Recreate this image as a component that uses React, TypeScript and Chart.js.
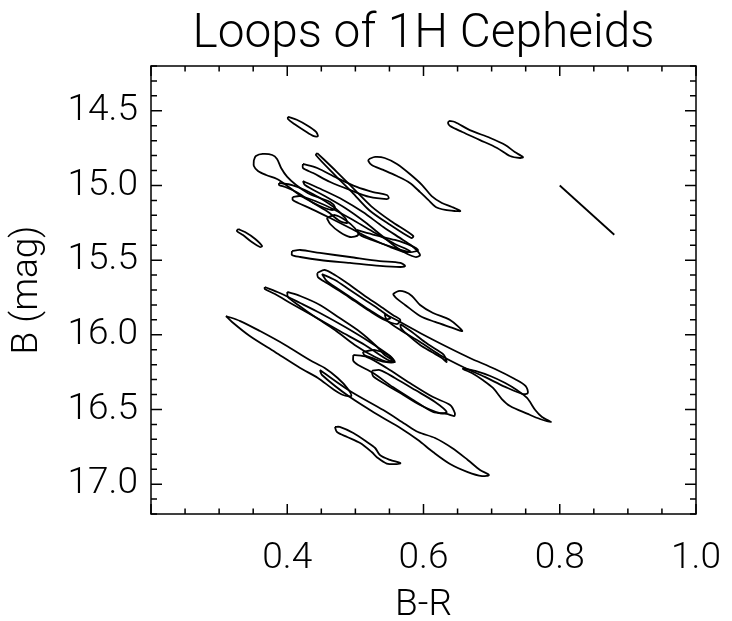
import React, { useEffect, useRef } from "react";
import { Chart, registerables } from "chart.js";

Chart.register(...registerables);

const TITLE = "Loops of 1H Cepheids";
const X_LABEL = "B-R";
const Y_LABEL = "B (mag)";
const X_MIN = 0.2;
const X_MAX = 1.0;
const Y_MIN = 14.2;
const Y_MAX = 17.2;
const X_TICKS = [0.4, 0.6, 0.8, 1.0];
const Y_TICKS = [14.5, 15.0, 15.5, 16.0, 16.5, 17.0];
const X_MINOR = 0.05;
const Y_MINOR = 0.1;

type P = [number, number];

// each loop: [B-R, B] points
const loopA: P[] = [[0.401,14.540],[0.414,14.560],[0.430,14.600],[0.442,14.640],[0.445,14.670],[0.439,14.670],[0.426,14.635],[0.411,14.590],[0.401,14.555]];
const loopB: P[] = [[0.6375,14.568],[0.646,14.575],[0.668,14.629],[0.698,14.682],[0.720,14.729],[0.734,14.776],[0.746,14.810],[0.742,14.816],[0.727,14.803],[0.708,14.749],[0.683,14.696],[0.657,14.642],[0.639,14.602],[0.636,14.582]];
const lineC: P[] = [[0.800,15.00],[0.880,15.33]];
const loopD: P[] = [[0.520,14.823],[0.529,14.809],[0.543,14.816],[0.561,14.856],[0.580,14.923],[0.598,14.997],[0.612,15.071],[0.627,15.117],[0.642,15.144],[0.654,15.171],[0.646,15.171],[0.632,15.164],[0.618,15.144],[0.607,15.097],[0.595,15.044],[0.580,14.983],[0.561,14.937],[0.541,14.896],[0.524,14.863],[0.519,14.836]];
const loopE: P[] = [[0.423,14.856],[0.444,14.883],[0.473,14.950],[0.502,15.010],[0.526,15.044],[0.546,15.064],[0.549,15.084],[0.546,15.091],[0.521,15.077],[0.492,15.030],[0.463,14.977],[0.438,14.917],[0.423,14.883]];
const loopF: P[] = [[0.444,14.783],[0.473,14.910],[0.498,15.024],[0.523,15.138],[0.552,15.238],[0.585,15.338],[0.582,15.352],[0.549,15.258],[0.520,15.164],[0.495,15.044],[0.470,14.930],[0.442,14.796]];
const loopG: P[] = [[0.351,14.830],[0.354,14.803],[0.364,14.789],[0.378,14.796],[0.385,14.823],[0.391,14.883],[0.400,14.943],[0.413,14.997],[0.430,15.050],[0.448,15.084],[0.463,15.111],[0.470,15.144],[0.467,15.164],[0.455,15.151],[0.436,15.111],[0.416,15.057],[0.400,15.003],[0.385,14.957],[0.369,14.930],[0.357,14.903],[0.351,14.870]];
const loopH: P[] = [[0.388,14.983],[0.407,14.997],[0.426,15.030],[0.448,15.084],[0.470,15.151],[0.485,15.218],[0.488,15.251],[0.477,15.238],[0.460,15.178],[0.438,15.117],[0.416,15.050],[0.397,15.010],[0.388,14.997]];
const loopI: P[] = [[0.408,15.077],[0.419,15.071],[0.441,15.104],[0.470,15.164],[0.499,15.238],[0.529,15.318],[0.558,15.392],[0.580,15.439],[0.573,15.446],[0.551,15.412],[0.521,15.352],[0.492,15.285],[0.463,15.218],[0.436,15.158],[0.416,15.117],[0.408,15.097]];
const loopJ: P[] = [[0.423,14.970],[0.452,15.030],[0.482,15.097],[0.511,15.178],[0.541,15.278],[0.570,15.365],[0.585,15.412],[0.595,15.466],[0.588,15.479],[0.566,15.432],[0.543,15.352],[0.514,15.245],[0.485,15.151],[0.455,15.071],[0.426,14.997]];
const loopK: P[] = [[0.458,15.218],[0.470,15.198],[0.485,15.231],[0.499,15.285],[0.504,15.332],[0.492,15.345],[0.477,15.312],[0.463,15.258]];
const loopL: P[] = [[0.502,15.298],[0.529,15.332],[0.558,15.365],[0.580,15.399],[0.592,15.432],[0.580,15.446],[0.554,15.412],[0.524,15.365],[0.507,15.332]];
const loopM: P[] = [[0.328,15.292],[0.338,15.312],[0.353,15.358],[0.363,15.405],[0.360,15.412],[0.348,15.379],[0.335,15.332],[0.326,15.305]];
const loopN: P[] = [[0.407,15.439],[0.419,15.432],[0.448,15.452],[0.492,15.479],[0.536,15.506],[0.566,15.519],[0.573,15.539],[0.566,15.546],[0.536,15.539],[0.492,15.519],[0.448,15.499],[0.419,15.479],[0.407,15.466]];
const loopO: P[] = [[0.444,15.586],[0.455,15.566],[0.470,15.600],[0.492,15.667],[0.514,15.740],[0.536,15.807],[0.555,15.867],[0.566,15.901],[0.561,15.928],[0.543,15.901],[0.521,15.841],[0.499,15.774],[0.477,15.707],[0.458,15.653],[0.445,15.613]];
const loopO2: P[] = [[0.451,15.593],[0.470,15.633],[0.492,15.700],[0.514,15.767],[0.536,15.834],[0.551,15.888],[0.543,15.894],[0.521,15.834],[0.499,15.767],[0.477,15.700],[0.458,15.640]];
const loopP: P[] = [[0.555,15.727],[0.563,15.707],[0.573,15.713],[0.583,15.740],[0.595,15.800],[0.614,15.854],[0.639,15.901],[0.657,15.975],[0.639,15.948],[0.617,15.914],[0.595,15.874],[0.573,15.800],[0.560,15.754]];
const loopQ: P[] = [[0.367,15.680],[0.389,15.720],[0.419,15.787],[0.448,15.854],[0.485,15.948],[0.521,16.048],[0.551,16.142],[0.558,16.182],[0.548,16.169],[0.514,16.068],[0.477,15.975],[0.441,15.881],[0.407,15.794],[0.382,15.727],[0.367,15.693]];
const loopR: P[] = [[0.400,15.713],[0.419,15.740],[0.448,15.800],[0.477,15.888],[0.507,15.981],[0.529,16.068],[0.543,16.135],[0.554,16.169],[0.548,16.182],[0.529,16.149],[0.499,16.068],[0.470,15.968],[0.441,15.881],[0.416,15.800],[0.401,15.747]];
const loopS: P[] = [[0.310,15.874],[0.331,15.908],[0.360,15.975],[0.397,16.068],[0.433,16.169],[0.455,16.222],[0.474,16.289],[0.488,16.356],[0.494,16.410],[0.482,16.403],[0.467,16.363],[0.445,16.289],[0.419,16.222],[0.382,16.115],[0.345,16.008],[0.319,15.914]];
const loopT: P[] = [[0.448,16.236],[0.492,16.376],[0.541,16.504],[0.573,16.597],[0.592,16.651],[0.617,16.691],[0.642,16.758],[0.665,16.838],[0.683,16.905],[0.696,16.939],[0.686,16.946],[0.665,16.919],[0.639,16.865],[0.614,16.785],[0.592,16.705],[0.566,16.624],[0.536,16.544],[0.492,16.417],[0.451,16.269]];
const loopU: P[] = [[0.543,15.861],[0.566,15.914],[0.595,15.988],[0.632,16.075],[0.668,16.155],[0.705,16.229],[0.734,16.296],[0.750,16.343],[0.753,16.390],[0.745,16.396],[0.720,16.349],[0.690,16.282],[0.661,16.222],[0.624,16.135],[0.595,16.048],[0.566,15.968],[0.546,15.901]];
const loopV: P[] = [[0.658,16.222],[0.676,16.242],[0.698,16.276],[0.720,16.323],[0.737,16.370],[0.752,16.423],[0.764,16.504],[0.774,16.551],[0.787,16.584],[0.771,16.564],[0.753,16.530],[0.727,16.477],[0.715,16.430],[0.702,16.356],[0.687,16.303],[0.671,16.256],[0.658,16.229]];
const loopW: P[] = [[0.566,15.928],[0.583,15.981],[0.602,16.048],[0.620,16.102],[0.630,16.135],[0.634,16.182],[0.627,16.155],[0.612,16.115],[0.595,16.068],[0.577,16.001],[0.567,15.954]];
const loopX: P[] = [[0.497,16.135],[0.517,16.149],[0.546,16.222],[0.580,16.323],[0.614,16.417],[0.639,16.470],[0.646,16.524],[0.645,16.544],[0.634,16.530],[0.614,16.517],[0.585,16.437],[0.555,16.350],[0.526,16.256],[0.504,16.202],[0.497,16.175]];
const loopX2: P[] = [[0.524,16.242],[0.536,16.236],[0.558,16.289],[0.588,16.370],[0.617,16.450],[0.634,16.517],[0.624,16.524],[0.595,16.470],[0.566,16.390],[0.541,16.323],[0.526,16.276]];
const loopX3: P[] = [[0.511,16.115],[0.529,16.102],[0.548,16.135],[0.557,16.182],[0.543,16.182],[0.524,16.155],[0.513,16.135]];
const loopZ: P[] = [[0.470,16.617],[0.477,16.617],[0.497,16.658],[0.517,16.718],[0.529,16.758],[0.536,16.805],[0.551,16.838],[0.566,16.859],[0.561,16.866],[0.546,16.862],[0.533,16.825],[0.524,16.785],[0.507,16.725],[0.488,16.684],[0.473,16.651]];

const CLOSED_LOOPS: P[][] = [loopA, loopB, loopD, loopE, loopF, loopG, loopH, loopI, loopJ, loopK, loopL, loopM, loopN, loopO, loopO2, loopP, loopQ, loopR, loopS, loopT, loopU, loopV, loopW, loopX, loopX2, loopX3, loopZ];
const OPEN_LINES: P[][] = [lineC];

const FONT = "Roboto, 'DejaVu Sans', sans-serif";

const framePlugin = {
  id: "idlFrame",
  afterDraw(chart: any) {
    const { ctx, chartArea, scales } = chart;
    const { left, right, top, bottom } = chartArea;
    const xs = scales.x;
    const ys = scales.y;
    ctx.save();
    ctx.strokeStyle = "#000";
    ctx.lineWidth = 1.5;
    ctx.strokeRect(left, top, right - left, bottom - top);
    ctx.beginPath();
    const nx = Math.round((X_MAX - X_MIN) / X_MINOR);
    for (let i = 0; i <= nx; i++) {
      const v = X_MIN + i * X_MINOR;
      const k = Math.round(v / X_MINOR);
      const len = k % 4 === 0 ? 10 : 5.5;
      const px = xs.getPixelForValue(v);
      ctx.moveTo(px, bottom);
      ctx.lineTo(px, bottom - len);
      ctx.moveTo(px, top);
      ctx.lineTo(px, top + len);
    }
    const ny = Math.round((Y_MAX - Y_MIN) / Y_MINOR);
    for (let i = 0; i <= ny; i++) {
      const v = Y_MIN + i * Y_MINOR;
      const k = Math.round(v / Y_MINOR);
      const len = k % 5 === 0 ? 11 : 6;
      const py = ys.getPixelForValue(v);
      ctx.moveTo(left, py);
      ctx.lineTo(left + len, py);
      ctx.moveTo(right, py);
      ctx.lineTo(right - len, py);
    }
    ctx.stroke();
    ctx.fillStyle = "#000";
    ctx.font = `300 48px ${FONT}`;
    const w = ctx.measureText(TITLE).width;
    ctx.translate((left + right) / 2, 47);
    ctx.scale(462 / w, 1);
    ctx.textAlign = "center";
    ctx.textBaseline = "alphabetic";
    ctx.fillText(TITLE, 0, 0);
    ctx.restore();
  },
};

export default function App() {
  const ref = useRef<HTMLCanvasElement>(null);
  useEffect(() => {
    const canvas = ref.current;
    if (!canvas) return;
    const mk = (pts: P[], closed: boolean) => ({
      data: (closed ? [...pts, pts[0]] : pts).map(([x, y]) => ({ x, y })),
      showLine: true,
      borderColor: "#000",
      borderWidth: 1.8,
      pointRadius: 0,
      pointHoverRadius: 0,
      tension: closed ? 0.3 : 0,
      fill: false,
    });
    const tickFont = { family: FONT, size: 37, weight: 300 as any };
    const chart = new Chart(canvas, {
      type: "scatter",
      data: {
        datasets: [
          ...CLOSED_LOOPS.map((l) => mk(l, true)),
          ...OPEN_LINES.map((l) => mk(l, false)),
        ] as any,
      },
      options: {
        responsive: false,
        animation: false,
        devicePixelRatio: 1,
        layout: { padding: { top: 66, right: 36, left: 0, bottom: 0 } },
        plugins: {
          legend: { display: false },
          tooltip: { enabled: false },
          title: { display: false },
        },
        scales: {
          x: {
            type: "linear",
            min: X_MIN,
            max: X_MAX,
            grid: { display: false, drawTicks: false },
            border: { display: false },
            afterBuildTicks: (s: any) => {
              s.ticks = X_TICKS.map((v) => ({ value: v }));
            },
            afterFit: (s: any) => {
              s.height = 107;
              s.paddingLeft = 0;
              s.paddingRight = 0;
            },
            ticks: {
              color: "#000",
              font: tickFont,
              padding: 23,
              maxRotation: 0,
              autoSkip: false,
              callback: (v: any) => Number(v).toFixed(1),
            },
            title: {
              display: true,
              text: X_LABEL,
              color: "#000",
              font: { family: FONT, size: 37, weight: 300 as any, lineHeight: 0.8 },
              padding: 0,
            },
          },
          y: {
            type: "linear",
            reverse: true,
            min: Y_MIN,
            max: Y_MAX,
            grid: { display: false, drawTicks: false },
            border: { display: false },
            afterBuildTicks: (s: any) => {
              s.ticks = Y_TICKS.map((v) => ({ value: v }));
            },
            afterFit: (s: any) => {
              s.width = 151;
              s.paddingTop = 0;
              s.paddingBottom = 0;
            },
            ticks: {
              color: "#000",
              font: tickFont,
              padding: 13,
              autoSkip: false,
              callback: (v: any) => Number(v).toFixed(1),
            },
            title: {
              display: true,
              text: Y_LABEL,
              color: "#000",
              font: { family: FONT, size: 37, weight: 300 as any },
              padding: { top: 6, bottom: 0 },
            },
          },
        },
      },
      plugins: [framePlugin],
    });
    let alive = true;
    const fonts = (document as any).fonts;
    if (fonts && fonts.load) {
      Promise.all([fonts.load(`300 37px Roboto`), fonts.load(`300 48px Roboto`)])
        .then(() => { if (alive) chart.update(); })
        .catch(() => {});
    }
    return () => {
      alive = false;
      chart.destroy();
    };
  }, []);
  return (
    <div style={{ position: "fixed", left: 0, top: 0, width: 732, height: 621, background: "#fff" }}>
      <canvas ref={ref} width={732} height={621} style={{ display: "block" }} />
    </div>
  );
}
